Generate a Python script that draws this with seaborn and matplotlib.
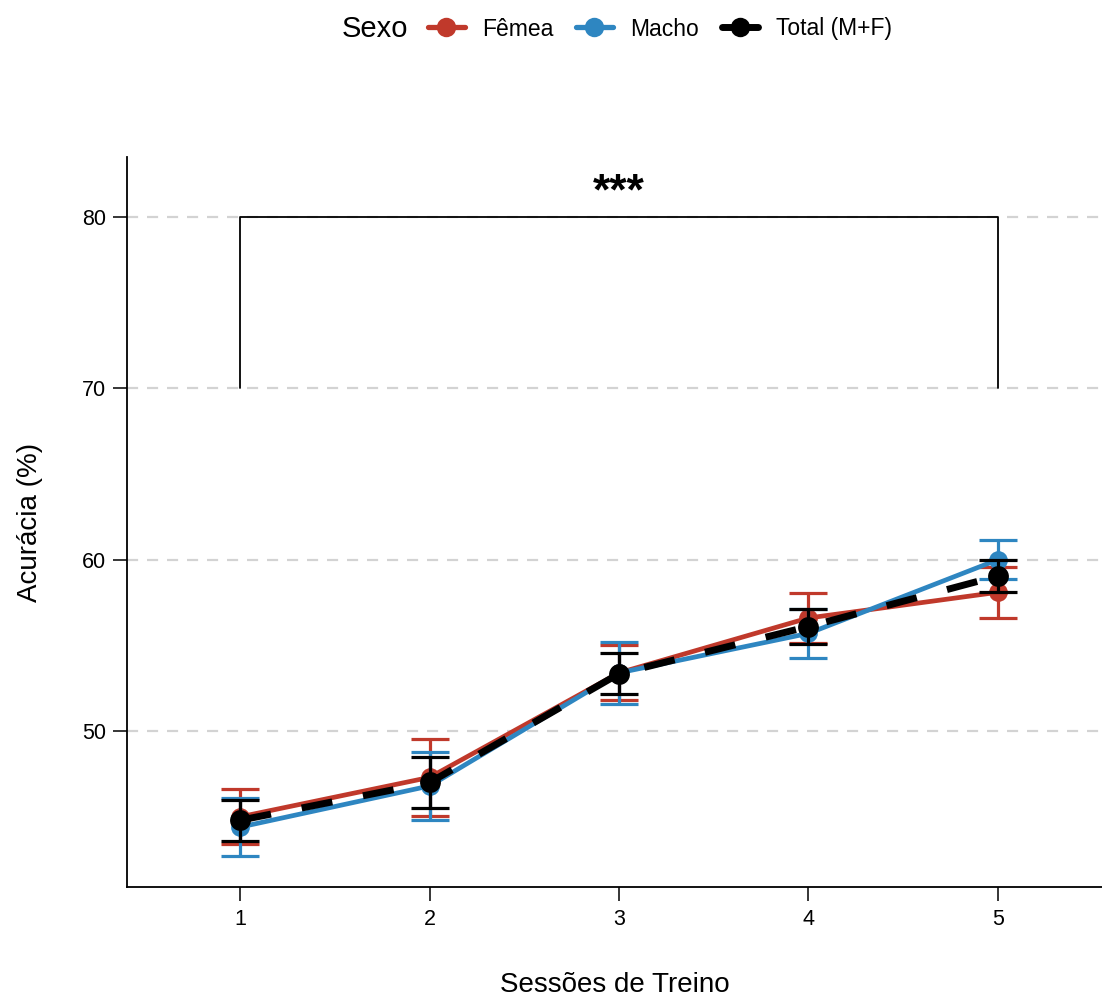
import numpy as np
import pandas as pd
import seaborn as sns
import matplotlib
matplotlib.use("Agg")
import matplotlib.pyplot as plt
from matplotlib.lines import Line2D

# ---- data ----
sessions = [1, 2, 3, 4, 5]
femea_mean = [45.0, 47.3, 53.4, 56.6, 58.1]
femea_se = [1.6, 2.25, 1.6, 1.45, 1.5]
macho_mean = [44.4, 46.8, 53.4, 55.7, 60.0]
macho_se = [1.7, 2.0, 1.8, 1.45, 1.15]
total_mean = [44.8, 47.0, 53.35, 56.1, 59.05]
total_se = [1.2, 1.5, 1.2, 1.0, 0.95]
groups = ["Fêmea", "Macho", "Total (M+F)"]
colors = {"Fêmea": "#C0392B", "Macho": "#2E86C1", "Total (M+F)": "#000000"}
yticks = [50, 60, 70, 80]
xticks = sessions
sig_label = "***"
sig_from, sig_to, sig_top, sig_bottom = 1, 5, 80, 70

df = pd.concat([
    pd.DataFrame({"Sessao": sessions, "Acuracia": femea_mean, "se": femea_se, "Sexo": "Fêmea"}),
    pd.DataFrame({"Sessao": sessions, "Acuracia": macho_mean, "se": macho_se, "Sexo": "Macho"}),
    pd.DataFrame({"Sessao": sessions, "Acuracia": total_mean, "se": total_se, "Sexo": "Total (M+F)"}),
], ignore_index=True)

sns.set_theme(style="ticks")
plt.rcParams["font.family"] = ["Liberation Sans", "DejaVu Sans"]
for k in ["text.color", "axes.labelcolor", "xtick.color", "ytick.color"]:
    plt.rcParams[k] = "black"

fig = plt.figure(figsize=(11.02, 9.96), dpi=100)
ax = fig.add_axes([0.115, 0.1094, 0.885, 0.733])

for y in yticks:
    ax.axhline(y, color="#D3D3D3", lw=1.6, ls=(0, (5, 4)), zorder=0)

dash_total = (0, (4.5, 4.5))
for i, g in enumerate(groups):
    sub = df[df["Sexo"] == g]
    c = colors[g]
    is_total = g.startswith("Total")
    ax.errorbar(sub["Sessao"], sub["Acuracia"], yerr=sub["se"], fmt="none",
                ecolor=c, elinewidth=2.3, capsize=13.5, capthick=2.3, zorder=2 + 3 * i)
    sns.lineplot(data=sub, x="Sessao", y="Acuracia", color=c, ax=ax,
                 lw=5.0 if is_total else 3.4, marker="o",
                 markersize=15 if is_total else 13.5, markeredgewidth=0,
                 dashes=False, legend=False, zorder=3 + 3 * i,
                 linestyle=dash_total if is_total else "-")

# significance bracket
ax.plot([sig_from, sig_from, sig_to, sig_to], [sig_bottom, sig_top, sig_top, sig_bottom],
        color="black", lw=1.3, zorder=1)
ax.text((sig_from + sig_to) / 2, sig_top + 1.4, sig_label, ha="center", va="center",
        fontsize=32, fontweight="bold", color="black")

ax.set_xlim(0.4, 5.55)
ax.set_ylim(40.9, 83.5)
ax.set_xticks(xticks)
ax.set_yticks(yticks)
ax.tick_params(axis="both", direction="out", length=10, width=1.1, labelsize=15.5,
               colors="black")
ax.tick_params(axis="y", pad=5)
ax.tick_params(axis="x", pad=6)
ax.set_xlabel("Sessões de Treino", fontsize=20, labelpad=30)
ax.set_ylabel("Acurácia (%)", fontsize=20, labelpad=28)
for s in ["top", "right"]:
    ax.spines[s].set_visible(False)
for s in ["left", "bottom"]:
    ax.spines[s].set_linewidth(1.3)
    ax.spines[s].set_color("black")

handles = [Line2D([0], [0], color=colors[g], lw=5.0 if g.startswith("Total") else 3.8,
                  marker="o", markersize=14, markeredgewidth=0,
                  linestyle="-") for g in groups]
fig.text(342 / 1102, 1 - 29 / 996, "Sexo", fontsize=21, ha="left", va="center")
fig.legend(handles, groups, loc="center left", bbox_to_anchor=(428 / 1102, 1 - 29 / 996),
           ncol=3, frameon=False, fontsize=16.5, handlelength=1.6, handletextpad=0.75,
           columnspacing=1.0, borderaxespad=0, borderpad=0)

fig.savefig("out.png", dpi=100)
